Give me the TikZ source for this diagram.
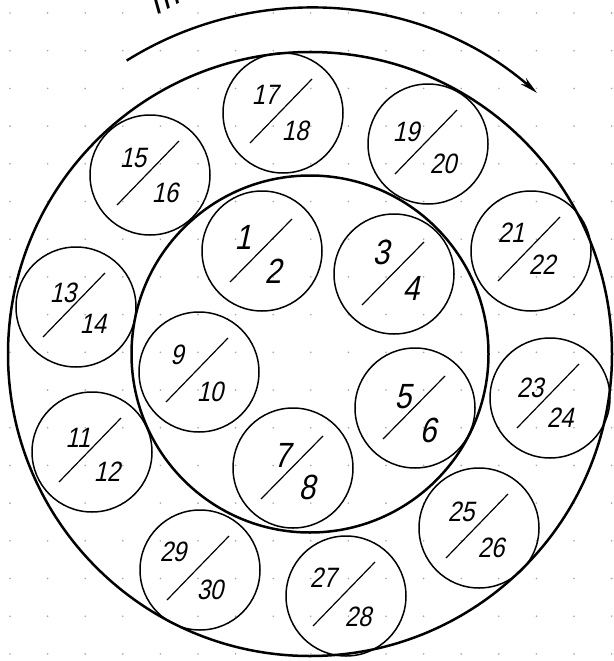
\documentclass[tikz,border=0pt]{standalone}
\usepackage{fontspec}
\usetikzlibrary{arrows.meta}
\newfontfamily\gost[FakeStretch=0.85,FakeSlant=0.22]{Liberation Sans}
\definecolor{dotc}{gray}{0.65}
\tikzset{
  bigring/.style={draw, circle, line width=2.5pt, inner sep=0pt},
  cell/.style={draw, circle, line width=1.5pt, inner sep=0pt, minimum size=120pt},
  slash/.style={line width=1.2pt},
  numA/.style={font=\gost\fontsize{35}{35}\selectfont, inner sep=0pt},
  numB/.style={font=\gost\fontsize{28}{28}\selectfont, inner sep=0pt},
  arr/.style={line width=2.4pt, -{Stealth[length=18pt,width=8pt]}},
}
\begin{document}
\begin{tikzpicture}[x=1pt,y=-1pt]
\useasboundingbox (0,0) rectangle (613,661);
\fill[white] (0,0) rectangle (613,661);
% dotted grid
\foreach \i in {0,...,16}{
  \foreach \j in {0,...,17}{
    \fill[dotc] ({10+37.6*\i},{13+37.7*\j}) circle (0.9pt);
  }
}
\coordinate (ctr) at (310,354);
\node[bigring, minimum size=604pt] (outer) at (ctr) {};
\node[bigring, minimum size=357pt] (inner) at (ctr) {};
% rotation arrow
\draw[arr] (ctr) ++(-122:346) arc[start angle=-122,end angle=-49,radius=346];
% cropped label fragment at top (cut by the picture's edge, as in the original)
\node[font=\gost\fontsize{40}{40}\selectfont, rotate=28, anchor=base west, inner sep=0pt] (frag) at (156,16) {m};
% single-digit cells
\foreach \n/\x/\y/\a/\b/\ax/\ay/\bx/\by in {
  c1/262/251/1/2/-19/-14/11/20,
  c3/394/274/3/4/-13/-22/17/14,
  c5/415/408/5/6/-12/-11/13/22,
  c7/293/468/7/8/-11/-13/14/19}{
  \node[cell] (\n) at (\x,\y) {};
  \draw[slash] (\n.center) ++(-32,31) -- ++(62,-63);
  \path (\n.center) ++(\ax,\ay) node[numA] {\a};
  \path (\n.center) ++(\bx,\by) node[numA] {\b};
}
% two-digit cells
\foreach \n/\x/\y/\a/\b/\ax/\ay/\bx/\by in {
  c9/199/372/9/10/-22/-17/11/20,
  c11/92/452/11/12/-14/-14/15/20,
  c13/76/307/13/14/-13/-14/17/17,
  c15/150/175/15/16/-17/-17/15/18,
  c17/283/113/17/18/-18/-18/12/18,
  c19/428/144/19/20/-22/-12/15/20,
  c21/531/251/21/22/-20/-18/11/14,
  c23/550/398/23/24/-20/-10/10/20,
  c25/479/528/25/26/-18/-16/12/20,
  c27/346/596/27/28/-23/-18/12/21,
  c29/200/570/29/30/-27/-18/10/20}{
  \node[cell] (\n) at (\x,\y) {};
  \draw[slash] (\n.center) ++(-33,30) -- ++(62,-64);
  \path (\n.center) ++(\ax,\ay) node[numB] {\a};
  \path (\n.center) ++(\bx,\by) node[numB] {\b};
}
\end{tikzpicture}
\end{document}
